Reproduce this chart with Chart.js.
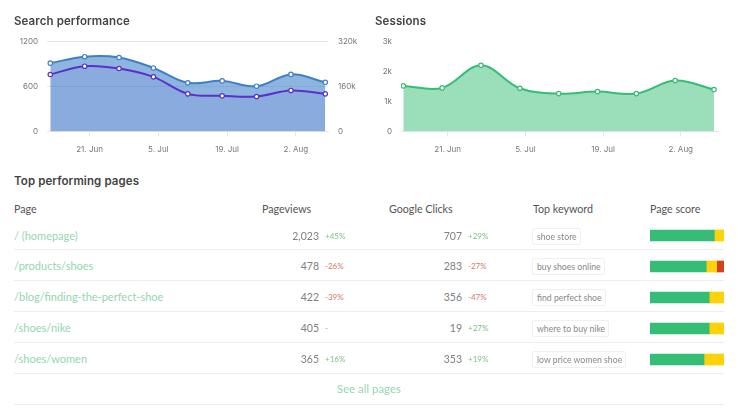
<!DOCTYPE html>
<html><head><meta charset="utf-8">
<script src="https://cdn.jsdelivr.net/npm/chart.js@4"></script>
<style>
html,body{margin:0;padding:0;background:#fff;width:751px;height:415px;overflow:hidden}
body{position:relative;font-family:Lato,sans-serif;filter:blur(0.3px)}
.a{position:absolute;white-space:nowrap;line-height:16px}
.h{font-family:Inter,sans-serif;font-weight:600;font-size:11.5px;letter-spacing:.1px;color:#444}
.th{font-size:10.7px;color:#555}
.link{font-size:11px;color:#95d6b2}
.see{font-size:11.4px}
.num{font-size:10.5px;color:#808080;text-align:right}
.d{font-size:8px}
.tag{font-size:8.7px;color:#888;border:1px solid #f0f0f0;border-radius:2px;padding:0 3px 0 4px;height:15px;line-height:15px}
.rule{position:absolute;left:14px;width:710px;height:1px;background:#eee}
canvas{position:absolute}
</style></head><body>
<canvas id="c1" style="left:0;top:28px;width:375px;height:132px" width="375" height="132"></canvas>
<canvas id="c2" style="left:375px;top:28px;width:376px;height:132px" width="376" height="132"></canvas>
<canvas id="c3" style="left:650px;top:220px;width:74px;height:155px" width="74" height="155"></canvas>
<script>
const weekDays=[13,20,27,34,41,48,55,62,69];
const tickDays=[21,35,49,63];
const tickLabels=['21. Jun','5. Jul','19. Jul','2. Aug'];
const impressions=[243000,266000,263000,226000,173000,180000,161000,203000,175000];
const clicksSeries=[760,871,840,729,502,476,467,547,502];
const sessions=[1528,1461,2219,1450,1271,1338,1271,1706,1405];

const pages=['/ (homepage)','/products/shoes','/blog/finding-the-perfect-shoe','/shoes/nike','/shoes/women'];
const pageviews=['2,023','478','422','405','365'];
const pageviewDeltas=['+45%','-26%','-39%','-','+16%'];
const googleClicks=['707','283','356','19','353'];
const clickDeltas=['+29%','-27%','-47%','+27%','+19%'];
const keywords=['shoe store','buy shoes online','find perfect shoe','where to buy nike','low price women shoe'];
const scoreGood=[87,76,80,80,73];
const scoreFair=[13,14,20,20,27];
const scorePoor=[0,10,0,0,0];
const headers=['Page','Pageviews','Google Clicks','Top keyword','Page score'];

Chart.defaults.font.family='Inter, sans-serif';
Chart.defaults.font.size=8;
Chart.defaults.color='#777';
Chart.defaults.animation=false;
Chart.defaults.devicePixelRatio=1;
Chart.defaults.responsive=false;

const pts=a=>a.map((y,i)=>({x:weekDays[i],y}));
const xAxis=(min,max)=>({type:'linear',min,max,
  afterBuildTicks:s=>{s.ticks=tickDays.map(value=>({value}))},
  afterFit:s=>{s.height=28.5},
  grid:{display:true,drawOnChartArea:false,drawTicks:true,tickLength:5,color:'#e6e6e6'},
  border:{color:'#e6e6e6'},
  ticks:{autoSkip:false,maxRotation:0,padding:8,callback:v=>tickLabels[tickDays.indexOf(v)]}});
const kFmt=v=>v===0?'0':(v/1000)+'k';
const series=(label,data,color,fill,axis)=>({label,data:pts(data),yAxisID:axis,borderColor:color,backgroundColor:fill,
  fill:'origin',borderWidth:2,tension:0.36,pointRadius:2.2,pointBorderWidth:1.2,pointBackgroundColor:'#fff',pointBorderColor:color});

new Chart(document.getElementById('c1'),{type:'line',
  data:{datasets:[
    Object.assign(series('Clicks',clicksSeries,'#5a30c9','rgba(90,48,201,0.08)','yL'),{order:0}),
    Object.assign(series('Impressions',impressions,'#3d7fc9','rgba(61,127,201,0.58)','yR'),{order:1})
  ]},
  options:{layout:{padding:{top:13.5,left:0,right:0,bottom:0}},
    plugins:{legend:{display:false},tooltip:{enabled:false}},
    scales:{
      x:xAxis(12.33,69.55),
      yL:{position:'left',min:0,max:1200,afterFit:s=>{s.width=47;s.paddingTop=0;s.paddingBottom=0},
        grid:{color:'#e6e6e6',drawTicks:false},border:{display:false},
        ticks:{stepSize:600,padding:9,callback:v=>String(v)}},
      yR:{position:'right',min:0,max:320000,afterFit:s=>{s.width=47;s.paddingTop=0;s.paddingBottom=0},
        grid:{display:false,drawTicks:false},border:{display:false},
        ticks:{stepSize:160000,padding:10,callback:kFmt}}
    }}});

new Chart(document.getElementById('c2'),{type:'line',
  data:{datasets:[series('Sessions',sessions,'#35bd76','rgba(53,189,118,0.5)','y')]},
  options:{layout:{padding:{top:14,left:0,right:33,bottom:0}},
    plugins:{legend:{display:false},tooltip:{enabled:false}},
    scales:{
      x:xAxis(12.58,69.72),
      y:{position:'left',min:0,max:3000,afterFit:s=>{s.width=26;s.paddingTop=0;s.paddingBottom=0},
        grid:{display:false,drawTicks:false},border:{display:false},
        ticks:{stepSize:1000,padding:9,callback:kFmt}}
    }}});

new Chart(document.getElementById('c3'),{type:'bar',
  data:{labels:pages,datasets:[
    {label:'Good',data:scoreGood,backgroundColor:'#35bd76',barThickness:11},
    {label:'Fair',data:scoreFair,backgroundColor:'#fdd20a',barThickness:11},
    {label:'Poor',data:scorePoor,backgroundColor:'#d0421b',barThickness:11}
  ]},
  options:{indexAxis:'y',layout:{padding:0},
    plugins:{legend:{display:false},tooltip:{enabled:false}},
    scales:{x:{stacked:true,display:false,min:0,max:100},y:{stacked:true,display:false}}}});

function put(text,cls,style){
  const e=document.createElement('div');e.className='a '+cls;e.textContent=text;
  Object.assign(e.style,style);document.body.appendChild(e);return e;
}
const deltaColor=s=>s[0]==='+'?'#7fc08f':s[0]==='-'&&s.length>1?'#d8796f':'#999';
put('Search performance','h',{left:'14px',top:'13px'});
put('Sessions','h',{left:'375px',top:'13px'});
put('Top performing pages','h',{left:'14px',top:'173px'});
const headerX=[14,262,389,533,650];
headers.forEach((t,i)=>put(t,'th',{left:headerX[i]+'px',top:'201px'}));
const rowY=[236,266,297,328,359];
const ruleY=[249,280,311,342,373,404];
ruleY.forEach(y=>{const r=document.createElement('div');r.className='rule';r.style.top=y+'px';document.body.appendChild(r)});
pages.forEach((p,i)=>{
  const top=(rowY[i]-8)+'px';
  put(p,'link',{left:'14px',top});
  put(pageviews[i],'num',{right:(751-319)+'px',top});
  put(pageviewDeltas[i],'d',{left:'325px',top,color:deltaColor(pageviewDeltas[i])});
  put(googleClicks[i],'num',{right:(751-462)+'px',top});
  put(clickDeltas[i],'d',{left:'468px',top,color:deltaColor(clickDeltas[i])});
  put(keywords[i],'tag',{left:'532px',top});
});
put('See all pages','link see',{left:'337px',top:'381px'});
</script>
</body></html>
